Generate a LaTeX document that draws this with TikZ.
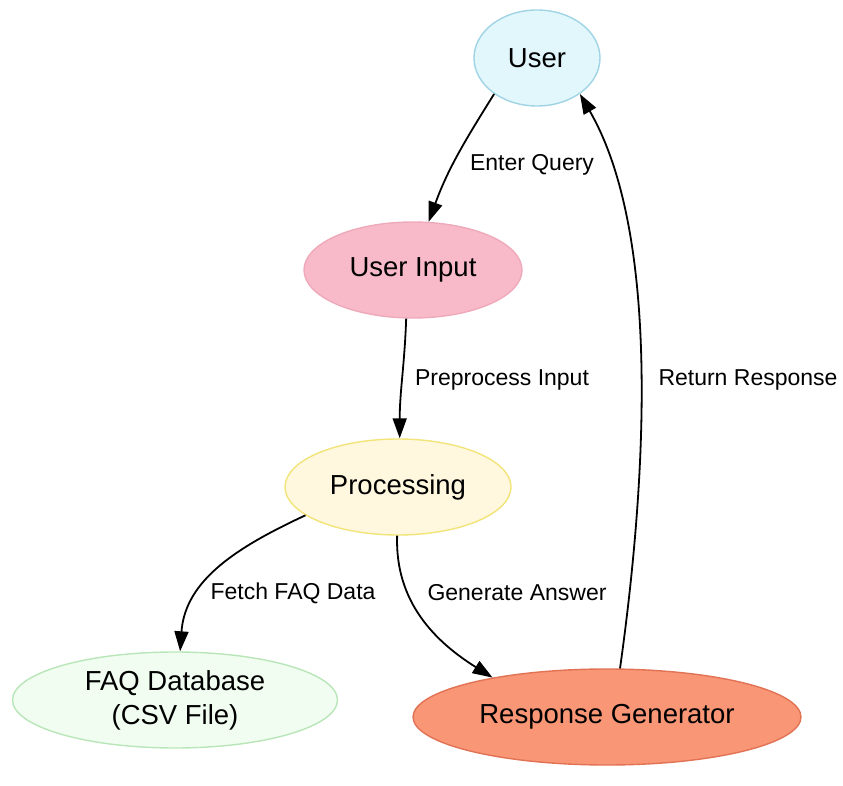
\documentclass[tikz,border=0pt]{standalone}
\usepackage{fontspec}
\setmainfont{Liberation Sans}
\usetikzlibrary{arrows.meta,positioning,shapes.geometric}
\definecolor{userfill}{RGB}{226,247,252}
\definecolor{userline}{RGB}{160,212,228}
\definecolor{inputfill}{RGB}{248,186,200}
\definecolor{inputline}{RGB}{238,170,186}
\definecolor{procfill}{RGB}{255,248,222}
\definecolor{procline}{RGB}{242,228,120}
\definecolor{faqfill}{RGB}{240,253,240}
\definecolor{faqline}{RGB}{184,230,184}
\definecolor{respfill}{RGB}{248,150,118}
\definecolor{respline}{RGB}{226,114,84}

\begin{document}
\begin{tikzpicture}[x=1pt, y=1pt,
  state/.style={ellipse, draw, line width=1.4pt, inner sep=0pt, minimum height=96pt,
                align=center, font=\fontsize{27.5}{34}\selectfont},
  lbl/.style={font=\fontsize{23}{26}\selectfont, inner sep=1pt},
  arr/.style={-{Triangle[length=20pt, width=14pt]}, line width=1.8pt}]
  \useasboundingbox (0,0) rectangle (843,785);
  \node[state, fill=userfill, draw=userline, minimum width=126pt] (user) at (537,727) {User};
  \node[state, fill=inputfill, draw=inputline, minimum width=218pt] (input) at (413,515) {User Input};
  \node[state, fill=procfill, draw=procline, minimum width=226pt] (proc) at (398,298) {Processing};
  \node[state, fill=faqfill, draw=faqline, minimum width=325pt] (faq) at (175,85) {FAQ Database\\(CSV File)};
  \node[state, fill=respfill, draw=respline, minimum width=388pt] (resp) at (607,68) {Response Generator};
  % edge labels
  \node[lbl] (lquery) at (532,620) {Enter Query};
  \node[lbl] (lprep) at (502,405) {Preprocess Input};
  \node[lbl] (lfetch) at (293,192) {Fetch FAQ Data};
  \node[lbl] (lgen) at (517,192) {Generate Answer};
  \node[lbl] (lret) at (748,405) {Return Response};
  \draw[arr] (user.220) to[out=238, in=70] (input.72);
  \draw[arr] (input.262) to[out=268, in=90] (proc.88);
  \draw[arr] (proc.197) to[out=205, in=86] (faq.84);
  \draw[arr] (proc.269) to[out=268, in=148] (resp.161);
  \draw[arr] (resp.75) to[out=82, in=-60, looseness=0.75] (user.-40);
\end{tikzpicture}
\end{document}
